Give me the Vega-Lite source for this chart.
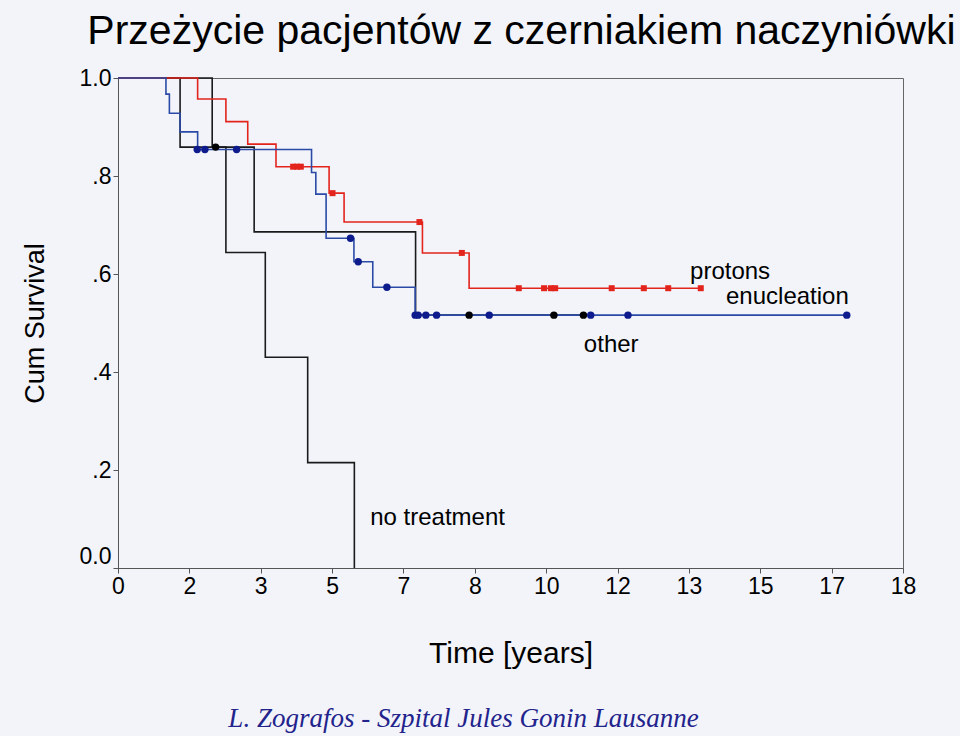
{
  "$schema": "https://vega.github.io/schema/vega-lite/v6.json",
  "background": "#f2f4fa",
  "padding": {"left": 20, "top": 10, "right": 40, "bottom": 10},
  "title": {
    "text": "Przeżycie pacjentów z czerniakiem naczyniówki",
    "font": "Liberation Sans", "fontSize": 41, "fontWeight": "normal", "color": "#000000",
    "anchor": "middle", "offset": 14, "dx": 53
  },
  "datasets": {
    "curves": [
      {"group": "no treatment", "t": 0, "s": 1.0},
      {"group": "no treatment", "t": 2.20, "s": 0.859},
      {"group": "no treatment", "t": 2.52, "s": 0.644},
      {"group": "no treatment", "t": 3.44, "s": 0.430},
      {"group": "no treatment", "t": 4.43, "s": 0.215},
      {"group": "no treatment", "t": 5.52, "s": 0.0},
      {"group": "other", "t": 0, "s": 1.0},
      {"group": "other", "t": 1.45, "s": 0.859},
      {"group": "other", "t": 3.18, "s": 0.686},
      {"group": "other", "t": 6.95, "s": 0.516},
      {"group": "other", "t": 10.87, "s": 0.516},
      {"group": "protons", "t": 0, "s": 1.0},
      {"group": "protons", "t": 1.86, "s": 0.957},
      {"group": "protons", "t": 2.52, "s": 0.911},
      {"group": "protons", "t": 3.03, "s": 0.865},
      {"group": "protons", "t": 3.69, "s": 0.819},
      {"group": "protons", "t": 4.93, "s": 0.765},
      {"group": "protons", "t": 5.28, "s": 0.706},
      {"group": "protons", "t": 7.11, "s": 0.643},
      {"group": "protons", "t": 8.20, "s": 0.571},
      {"group": "protons", "t": 13.61, "s": 0.571},
      {"group": "enucleation", "t": 0, "s": 1.0},
      {"group": "enucleation", "t": 1.12, "s": 0.967},
      {"group": "enucleation", "t": 1.20, "s": 0.928},
      {"group": "enucleation", "t": 1.45, "s": 0.890},
      {"group": "enucleation", "t": 1.86, "s": 0.854},
      {"group": "enucleation", "t": 4.52, "s": 0.807},
      {"group": "enucleation", "t": 4.62, "s": 0.763},
      {"group": "enucleation", "t": 4.86, "s": 0.673},
      {"group": "enucleation", "t": 5.51, "s": 0.625},
      {"group": "enucleation", "t": 5.95, "s": 0.573},
      {"group": "enucleation", "t": 6.94, "s": 0.516},
      {"group": "enucleation", "t": 17.02, "s": 0.516}
    ],
    "censored": [
      {"group": "enucleation", "t": 1.85, "s": 0.854},
      {"group": "enucleation", "t": 2.03, "s": 0.854},
      {"group": "enucleation", "t": 2.77, "s": 0.854},
      {"group": "enucleation", "t": 5.43, "s": 0.673},
      {"group": "enucleation", "t": 5.61, "s": 0.625},
      {"group": "enucleation", "t": 6.28, "s": 0.573},
      {"group": "enucleation", "t": 6.94, "s": 0.516},
      {"group": "enucleation", "t": 7.01, "s": 0.516},
      {"group": "enucleation", "t": 7.19, "s": 0.516},
      {"group": "enucleation", "t": 7.44, "s": 0.516},
      {"group": "enucleation", "t": 8.67, "s": 0.516},
      {"group": "enucleation", "t": 11.04, "s": 0.516},
      {"group": "enucleation", "t": 11.91, "s": 0.516},
      {"group": "enucleation", "t": 17.02, "s": 0.516},
      {"group": "other", "t": 2.28, "s": 0.859},
      {"group": "other", "t": 8.20, "s": 0.516},
      {"group": "other", "t": 10.18, "s": 0.516},
      {"group": "other", "t": 10.87, "s": 0.516},
      {"group": "protons", "t": 4.09, "s": 0.819},
      {"group": "protons", "t": 4.18, "s": 0.819},
      {"group": "protons", "t": 4.27, "s": 0.819},
      {"group": "protons", "t": 5.01, "s": 0.765},
      {"group": "protons", "t": 7.04, "s": 0.706},
      {"group": "protons", "t": 8.03, "s": 0.643},
      {"group": "protons", "t": 9.36, "s": 0.571},
      {"group": "protons", "t": 9.95, "s": 0.571},
      {"group": "protons", "t": 10.11, "s": 0.571},
      {"group": "protons", "t": 10.21, "s": 0.571},
      {"group": "protons", "t": 11.53, "s": 0.571},
      {"group": "protons", "t": 12.28, "s": 0.571},
      {"group": "protons", "t": 12.85, "s": 0.571},
      {"group": "protons", "t": 13.61, "s": 0.571}
    ]
  },
  "config": {
    "view": {"stroke": "#666666", "strokeWidth": 1},
    "axis": {
      "grid": false, "domainColor": "#555555", "tickColor": "#555555", "tickSize": 5,
      "labelFont": "Liberation Sans", "labelColor": "#000000", "labelFontSize": 23,
      "titleFont": "Liberation Sans", "titleColor": "#000000", "titleFontWeight": "normal"
    }
  },
  "vconcat": [
    {
      "width": 785,
      "height": 490,
      "title": {
        "text": "L. Zografos - Szpital Jules Gonin Lausanne",
        "orient": "bottom", "anchor": "middle", "dx": -47, "offset": 38,
        "font": "Liberation Serif", "fontStyle": "italic", "fontWeight": "normal",
        "fontSize": 27, "color": "#23238c"
      },
      "layer": [
        {
          "data": {"name": "curves"},
          "transform": [{"filter": "datum.group == 'no treatment'"}],
          "mark": {"type": "line", "interpolate": "step-after", "color": "#1a1a1a", "strokeWidth": 1.6},
          "encoding": {
            "x": {
              "field": "t", "type": "quantitative",
              "scale": {"domain": [0, 18.3333], "nice": false, "zero": false},
              "axis": {
                "title": "Time [years]", "titleFontSize": 30, "titlePadding": 40,
                "values": [0, 1.6667, 3.3333, 5, 6.6667, 8.3333, 10, 11.6667, 13.3333, 15, 16.6667, 18.3333],
                "labelExpr": "format(round(datum.value), 'd')",
                "labelPadding": 2, "labelFlush": false, "labelOverlap": false
              }
            },
            "y": {
              "field": "s", "type": "quantitative",
              "scale": {"domain": [0, 1], "nice": false},
              "axis": {
                "title": "Cum Survival", "titleFontSize": 27, "titlePadding": 30,
                "values": [0, 0.2, 0.4, 0.6, 0.8, 1],
                "labelExpr": "datum.value == 0 ? '0.0' : datum.value == 1 ? '1.0' : replace(format(datum.value, '.1f'), '0.', '.')",
                "labelPadding": 2, "labelFlush": false, "labelOverlap": false,
                "labelBaseline": {"condition": {"test": "datum.value == 0", "value": "bottom"}, "value": "middle"}
              }
            }
          }
        },
        {
          "data": {"name": "curves"},
          "transform": [{"filter": "datum.group == 'other'"}],
          "mark": {"type": "line", "interpolate": "step-after", "color": "#1a1a1a", "strokeWidth": 1.6},
          "encoding": {"x": {"field": "t", "type": "quantitative"}, "y": {"field": "s", "type": "quantitative"}}
        },
        {
          "data": {"name": "curves"},
          "transform": [{"filter": "datum.group == 'protons'"}],
          "mark": {"type": "line", "interpolate": "step-after", "color": "#e3241d", "strokeWidth": 1.6},
          "encoding": {"x": {"field": "t", "type": "quantitative"}, "y": {"field": "s", "type": "quantitative"}}
        },
        {
          "data": {"name": "curves"},
          "transform": [{"filter": "datum.group == 'enucleation'"}],
          "mark": {"type": "line", "interpolate": "step-after", "color": "#2b4aa6", "strokeWidth": 1.6},
          "encoding": {"x": {"field": "t", "type": "quantitative"}, "y": {"field": "s", "type": "quantitative"}}
        },
        {
          "data": {"name": "censored"},
          "transform": [{"filter": "datum.group == 'other'"}],
          "mark": {"type": "point", "shape": "circle", "filled": true, "opacity": 1, "color": "#000000", "size": 55},
          "encoding": {"x": {"field": "t", "type": "quantitative"}, "y": {"field": "s", "type": "quantitative"}}
        },
        {
          "data": {"name": "censored"},
          "transform": [{"filter": "datum.group == 'enucleation'"}],
          "mark": {"type": "point", "shape": "circle", "filled": true, "opacity": 1, "color": "#0d1b8c", "size": 55},
          "encoding": {"x": {"field": "t", "type": "quantitative"}, "y": {"field": "s", "type": "quantitative"}}
        },
        {
          "data": {"name": "censored"},
          "transform": [{"filter": "datum.group == 'protons'"}],
          "mark": {"type": "point", "shape": "square", "filled": true, "opacity": 1, "color": "#e3241d", "size": 36},
          "encoding": {"x": {"field": "t", "type": "quantitative"}, "y": {"field": "s", "type": "quantitative"}}
        },
        {
          "data": {"values": [{"label": "protons"}]},
          "mark": {"type": "text", "align": "left", "baseline": "middle", "font": "Liberation Sans", "fontSize": 24, "color": "#000000"},
          "encoding": {"x": {"datum": 13.36}, "y": {"datum": 0.604}, "text": {"field": "label", "type": "nominal"}}
        },
        {
          "data": {"values": [{"label": "enucleation"}]},
          "mark": {"type": "text", "align": "left", "baseline": "middle", "font": "Liberation Sans", "fontSize": 24, "color": "#000000"},
          "encoding": {"x": {"datum": 14.2}, "y": {"datum": 0.553}, "text": {"field": "label", "type": "nominal"}}
        },
        {
          "data": {"values": [{"label": "other"}]},
          "mark": {"type": "text", "align": "left", "baseline": "middle", "font": "Liberation Sans", "fontSize": 24, "color": "#000000"},
          "encoding": {"x": {"datum": 10.88}, "y": {"datum": 0.455}, "text": {"field": "label", "type": "nominal"}}
        },
        {
          "data": {"values": [{"label": "no treatment"}]},
          "mark": {"type": "text", "align": "left", "baseline": "middle", "font": "Liberation Sans", "fontSize": 24, "color": "#000000"},
          "encoding": {"x": {"datum": 5.89}, "y": {"datum": 0.102}, "text": {"field": "label", "type": "nominal"}}
        }
      ]
    }
  ]
}
